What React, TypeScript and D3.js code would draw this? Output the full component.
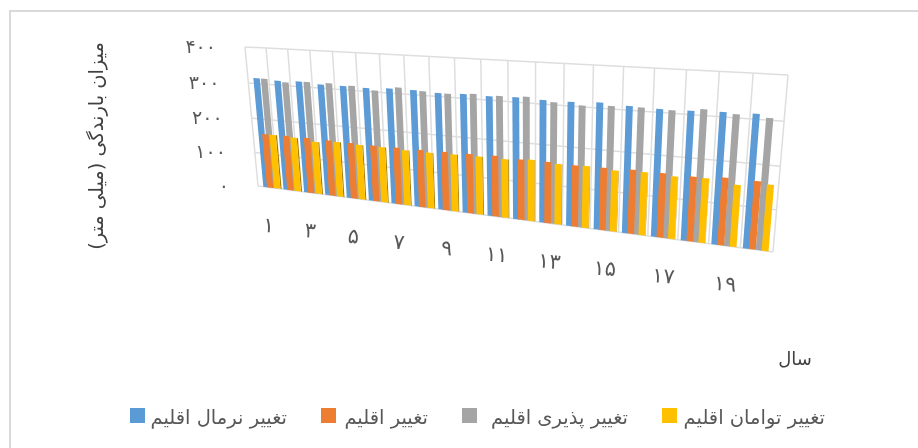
import React from "react";
import * as d3 from "d3";

const categories = d3.range(1, 21).map(String);
const tickLabels = ["۱", "۳", "۵", "۷", "۹", "۱۱", "۱۳", "۱۵", "۱۷", "۱۹"];
const valueTicks = [0, 100, 200, 300, 400];
const valueTickLabels = ["۰", "۱۰۰", "۲۰۰", "۳۰۰", "۴۰۰"];

const normal = [315, 312, 314, 310, 310, 309, 312, 312, 309, 311, 310, 312, 310, 310, 313, 310, 308, 309, 311, 312];
const climate = [157, 158, 158, 157, 156, 155, 156, 156, 157, 158, 160, 157, 158, 156, 157, 159, 158, 157, 162, 161];
const vulnerability = [315, 309, 314, 315, 312, 304, 316, 311, 309, 313, 312, 315, 306, 303, 307, 308, 307, 314, 308, 305];
const combined = [157, 155, 149, 155, 153, 153, 151, 151, 153, 154, 154, 159, 155, 157, 153, 156, 153, 156, 148, 156];

const names = ["تغییر نرمال اقلیم", "تغییر اقلیم", "تغییر پذیری اقلیم", "تغییر توامان اقلیم"];
const colors = ["#5B9BD5", "#ED7D31", "#A5A5A5", "#FFC000"];
const legendSwatchX = [130, 321, 462, 662];
const legendTextEnd = [287, 428, 628, 825];

const FONT = "'DejaVu Sans', 'Noto Sans', sans-serif";
const INK = "#595959";
const W = 918;
const H = 448;

// back wall corners, used for the perspective of the Excel 3D chart
const wall = { tl: [245, 47], tr: [788, 75], br: [773, 252], bl: [258, 186] };

// unit square -> quad
function makeProjection() {
  const [x0, y0] = wall.bl;
  const [x1, y1] = wall.br;
  const [x2, y2] = wall.tr;
  const [x3, y3] = wall.tl;
  const dx1 = x1 - x2;
  const dx2 = x3 - x2;
  const sx = x0 - x1 + x2 - x3;
  const dy1 = y1 - y2;
  const dy2 = y3 - y2;
  const sy = y0 - y1 + y2 - y3;
  const den = dx1 * dy2 - dx2 * dy1;
  const g = (sx * dy2 - dx2 * sy) / den;
  const h = (dx1 * sy - sx * dy1) / den;
  const a = x1 - x0 + g * x1;
  const b = x3 - x0 + h * x3;
  const d = y1 - y0 + g * y1;
  const e = y3 - y0 + h * y3;
  return (u: number, v: number): [number, number] => {
    const w = g * u + h * v + 1;
    return [(a * u + b * v + x0) / w, (d * u + e * v + y0) / w];
  };
}
const project = makeProjection();

const uScale = d3.scaleBand<string>().domain(categories).range([0, 1]);
const vScale = d3.scaleLinear().domain([0, 400]).range([0, 1]);

// bars stand in front of the wall, so their place in the band drifts from left to right
const drift = (from: number, to: number) => d3.scaleLinear().domain([0, categories.length - 1]).range([from, to]);
const seriesList = [
  { values: normal, color: colors[0], slot: drift(0.42, 0.18), side: false },
  { values: vulnerability, color: colors[2], slot: drift(0.78, 0.58), side: false },
  { values: climate, color: colors[1], slot: drift(0.6, 0.37), side: false },
  { values: combined, color: colors[3], slot: drift(0.95, 0.76), side: true },
];
const barWidth = drift(0.31, 0.21);
const sideWidth = drift(0.06, 0);

const poly = (pts: [number, number][]) => "M" + pts.map((p) => p.join(",")).join("L") + "Z";

export default function App() {
  const band = uScale.bandwidth();
  const lines = d3.range(0, categories.length + 1).map((i) => i * band);

  return (
    <svg width={W} height={H} style={{ position: "absolute", left: 0, top: 0, background: "#fff" }}>
      <defs>
        <filter id="soft" x="-5%" y="-5%" width="110%" height="110%">
          <feGaussianBlur stdDeviation="0.55" />
        </filter>
        <filter id="softText" x="-5%" y="-5%" width="110%" height="110%">
          <feGaussianBlur stdDeviation="0.3" />
        </filter>
      </defs>
      <rect x={10} y={11} width={W + 20} height={H + 20} fill="none" stroke="#d9d9d9" strokeWidth={2} />

      <g filter="url(#soft)">
        {valueTicks.map((t) => {
          const [a, b] = [project(0, vScale(t)), project(1, vScale(t))];
          return <line key={t} x1={a[0]} y1={a[1]} x2={b[0]} y2={b[1]} stroke="#dedede" strokeWidth={1.5} />;
        })}
        {lines.map((u) => {
          const [a, b] = [project(u, 0), project(u, 1)];
          return <line key={u} x1={a[0]} y1={a[1]} x2={b[0]} y2={b[1]} stroke="#dedede" strokeWidth={1.5} />;
        })}
        {categories.map((c, i) => {
          const u0 = uScale(c) as number;
          return (
            <g key={c}>
              {seriesList.map((s) => {
                const left = u0 + s.slot(i) * band - (barWidth(i) * band) / 2;
                const right = left + barWidth(i) * band;
                const top = vScale(s.values[i]);
                const edge = right + sideWidth(i) * band;
                return (
                  <g key={s.color}>
                    {s.side && (
                      <path
                        d={poly([project(right, 0), project(edge, 0), project(edge, top), project(right, top)])}
                        fill={d3.color(s.color)!.darker(1.2).toString()}
                      />
                    )}
                    <path
                      d={poly([project(left, 0), project(right, 0), project(right, top), project(left, top)])}
                      fill={s.color}
                    />
                  </g>
                );
              })}
            </g>
          );
        })}
      </g>

      <g filter="url(#softText)">
        {valueTicks.map((t, i) => {
          const [x, y] = project(0, vScale(t));
          return (
            <text key={t} x={x - 29} y={y + 6} textAnchor="end" fontFamily={FONT} fontSize={19} fill={INK}>
              {valueTickLabels[i]}
            </text>
          );
        })}

        {tickLabels.map((t, i) => {
          const c = categories[i * 2];
          const [x, y] = project((uScale(c) as number) + band * 0.5, 0);
          return (
            <text
              key={t}
              transform={`translate(${x},${y + 45}) rotate(5)`}
              textAnchor="middle"
              fontFamily={FONT}
              fontSize={21}
              fill={INK}
            >
              {t}
            </text>
          );
        })}

        <text
          transform="translate(103,146) rotate(-90)"
          textAnchor="middle"
          direction="rtl"
          fontFamily={FONT}
          fontSize={19.4}
          fill="#404040"
        >
          میزان بارندگی (میلی متر)
        </text>
        <text x={795} y={365} textAnchor="middle" direction="rtl" fontFamily={FONT} fontSize={18} fill="#404040">
          سال
        </text>

        {names.map((n, i) => (
          <text
            key={n}
            x={legendTextEnd[i]}
            y={424}
            textAnchor="start"
            direction="rtl"
            fontFamily={FONT}
            fontSize={19.5}
            fill={INK}
          >
            {n}
          </text>
        ))}
      </g>
      {names.map((n, i) => (
        <rect key={n} x={legendSwatchX[i]} y={408} width={15} height={15} fill={colors[i]} />
      ))}
    </svg>
  );
}
